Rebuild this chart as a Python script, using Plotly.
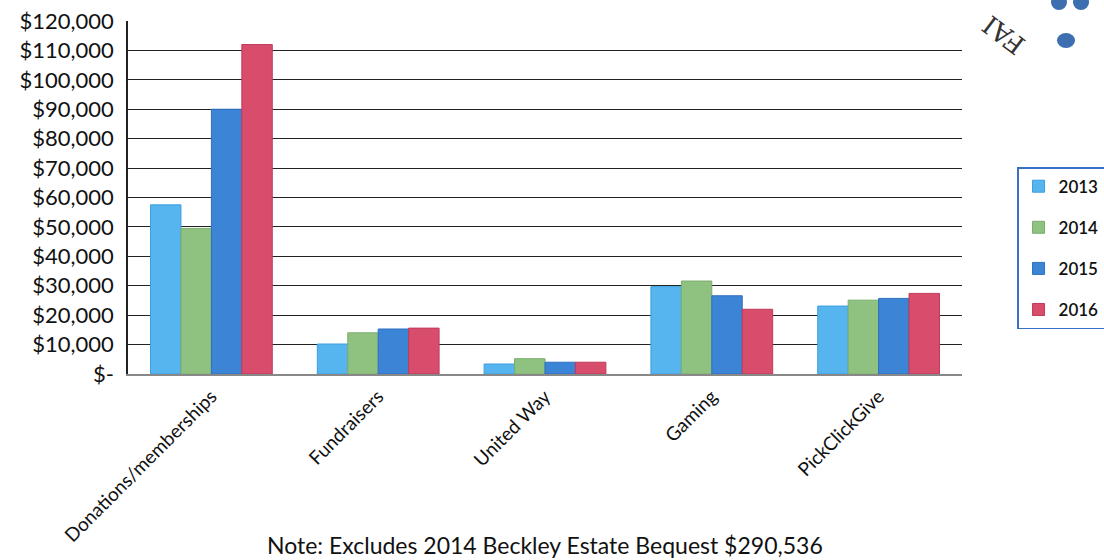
import plotly.graph_objects as go

categories = ["Donations/memberships", "Fundraisers", "United Way", "Gaming", "PickClickGive"]
years = ["2013", "2014", "2015", "2016"]
values_2013 = [57500, 10200, 3400, 29700, 23100]
values_2014 = [49500, 14000, 5200, 31600, 25100]
values_2015 = [90000, 15300, 4000, 26600, 25700]
values_2016 = [112000, 15600, 4000, 22000, 27400]
tick_vals = [0, 10000, 20000, 30000, 40000, 50000, 60000, 70000, 80000, 90000, 100000, 110000, 120000]
tick_text = ["$-", "$10,000", "$20,000", "$30,000", "$40,000", "$50,000", "$60,000",
             "$70,000", "$80,000", "$90,000", "$100,000", "$110,000", "$120,000"]
note = "Note: Excludes 2014 Beckley Estate Bequest $290,536"

series = [values_2013, values_2014, values_2015, values_2016]
colors = ["#56b5ee", "#8fc181", "#3c84d5", "#d84c6c"]
edge = ["#3a9ee0", "#7aad6c", "#2f6fbf", "#c23a5a"]

fig = go.Figure()
for y, vals, c, e in zip(years, series, colors, edge):
    fig.add_trace(go.Bar(x=categories, y=vals, name=y, legendgroup=y,
                         marker=dict(color=c, line=dict(color=e, width=1))))

fig.update_layout(
    width=1104, height=560,
    margin=dict(l=128, r=142, t=21, b=186, autoexpand=False),
    paper_bgcolor="white", plot_bgcolor="white",
    barmode="group", bargap=0.27, bargroupgap=0,
    font=dict(family="Lato, Open Sans, sans-serif", color="#111"),
    showlegend=True,
    legend=dict(x=1.066, y=0.586, xanchor="left", yanchor="top",
                bordercolor="#3a6fc4", borderwidth=1.5,
                font=dict(size=17, color="#111", weight=600),
                itemwidth=30, tracegroupgap=16, bgcolor="white"),
    xaxis=dict(showgrid=False, showline=True, linecolor="#888", linewidth=2,
               tickangle=-45, automargin=False,
               tickfont=dict(size=19, color="#111"),
               ticks="", ticklabelstandoff=2),
    yaxis=dict(range=[0, 120000], tickvals=tick_vals, ticktext=tick_text,
               automargin=False,
               showgrid=True, gridcolor="#222", gridwidth=1,
               showline=True, linecolor="#222", linewidth=1.5,
               zeroline=False, ticks="", ticklabelstandoff=8,
               tickfont=dict(size=22, color="#111")),
)

fig.add_annotation(text=note, xref="paper", yref="paper", x=0.5, y=-0.485,
                   xanchor="center", yanchor="middle", showarrow=False,
                   font=dict(size=23, color="#111"))

# stamp fragment in the top-right corner
fig.add_annotation(text="FAI", xref="paper", yref="paper", x=1.05, y=0.962,
                   xanchor="center", yanchor="middle", showarrow=False,
                   textangle=-143, font=dict(size=26, color="#333", family="DejaVu Serif"))
fig.add_shape(type="circle", xref="paper", yref="paper",
              x0=1.1139, x1=1.1355, y0=0.9235, y1=0.966,
              fillcolor="#3d6fb0", line=dict(width=0))
fig.add_shape(type="circle", xref="paper", yref="paper",
              x0=1.1067, x1=1.1259, y0=1.031, y1=1.075,
              fillcolor="#3d6fb0", line=dict(width=0))
fig.add_shape(type="circle", xref="paper", yref="paper",
              x0=1.1331, x1=1.1523, y0=1.031, y1=1.075,
              fillcolor="#3d6fb0", line=dict(width=0))

fig.write_html("out.html", config={"displayModeBar": False},
               post_script="document.body.style.margin='0';")
